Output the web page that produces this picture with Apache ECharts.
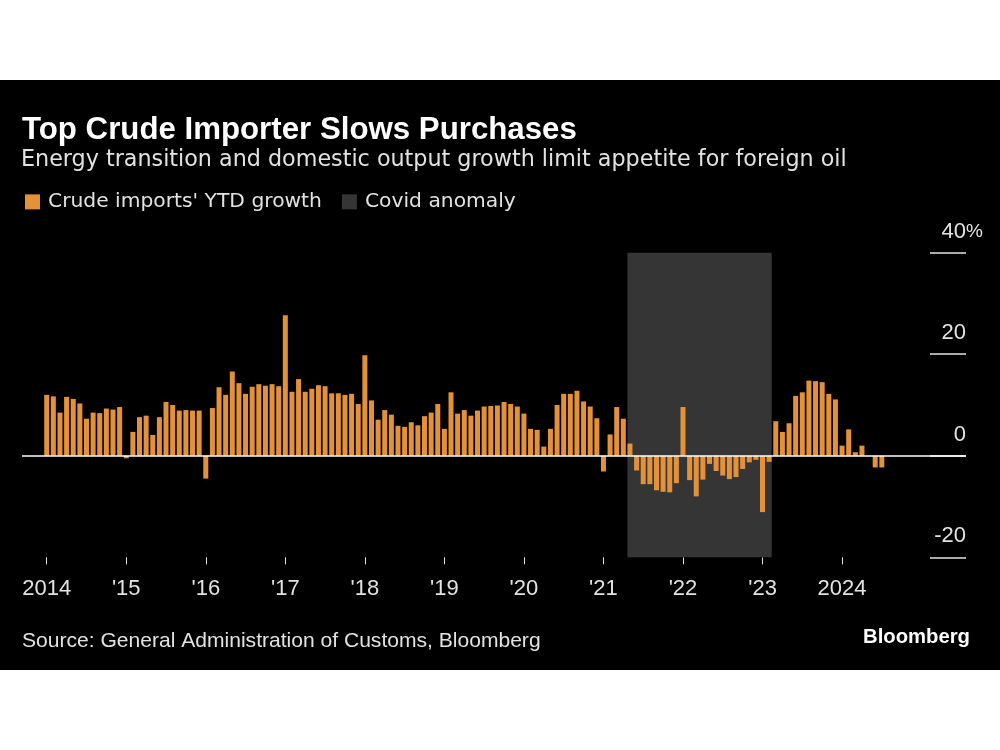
<!DOCTYPE html>
<html>
<head>
<meta charset="utf-8">
<script src="https://cdn.jsdelivr.net/npm/echarts@6/dist/echarts.min.js"></script>
<style>
  html, body { margin: 0; padding: 0; background: #ffffff; }
  #wrap { position: relative; width: 1000px; height: 750px; background: #ffffff; }
  #chart { position: absolute; left: 0; top: 80px; width: 1000px; height: 590px; background: #000000; }
</style>
</head>
<body>
<div id="wrap"><div id="chart"></div></div>
<script>
// Crude imports' YTD growth (%), monthly, Jan..Dec
const startYear = 2014;
const v2014 = [12.0, 11.7, 8.5, 11.6, 11.2, 10.3, 7.3, 8.5, 8.4, 9.3, 9.1, 9.6];
const v2015 = [-0.5, 4.7, 7.6, 7.9, 4.1, 7.6, 10.6, 10.0, 8.9, 9.0, 8.9, 8.9];
const v2016 = [-4.5, 9.4, 13.5, 12.0, 16.6, 14.3, 12.2, 13.6, 14.1, 13.8, 14.1, 13.7];
const v2017 = [27.7, 12.6, 15.1, 12.6, 13.2, 13.9, 13.7, 12.3, 12.3, 12.0, 12.2, 10.2];
const v2018 = [19.8, 10.9, 7.1, 9.0, 8.1, 5.9, 5.7, 6.6, 6.0, 7.8, 8.5, 10.2];
const v2019 = [5.3, 12.5, 8.3, 9.0, 7.9, 8.9, 9.7, 9.8, 9.9, 10.6, 10.2, 9.7];
const v2020 = [8.3, 5.3, 5.1, 1.8, 5.3, 10.0, 12.2, 12.2, 12.8, 10.7, 9.7, 7.4];
const v2021 = [-3.1, 4.2, 9.6, 7.3, 2.4, -2.9, -5.6, -5.6, -6.8, -7.1, -7.2, -5.4];
const v2022 = [9.6, -4.8, -8.0, -4.7, -1.6, -3.0, -3.9, -4.6, -4.2, -2.6, -1.3, -0.8];
const v2023 = [-11.1, -1.2, 6.8, 4.7, 6.4, 11.8, 12.5, 14.8, 14.7, 14.5, 12.2, 11.1];
const v2024 = [2.0, 5.2, 0.7, 2.0, 0.0, -2.3, -2.3];

// Covid anomaly period (first and last month shaded)
const covidStart = '2021-05';
const covidEnd = '2023-02';

// Tick labels at each January
const tickYears = [2014, 2015, 2016, 2017, 2018, 2019, 2020, 2021, 2022, 2023, 2024];
const tickLabels = ['2014', "'15", "'16", "'17", "'18", "'19", "'20", "'21", "'22", "'23", '2024'];

// Texts
const TITLE = 'Top Crude Importer Slows Purchases';
const SUBTITLE = 'Energy transition and domestic output growth limit appetite for foreign oil';
const SERIES_NAME = "Crude imports' YTD growth";
const COVID_NAME = 'Covid anomaly';
const SOURCE = 'Source: General Administration of Customs, Bloomberg';
const LOGO = 'Bloomberg';

const values = [].concat(v2014, v2015, v2016, v2017, v2018, v2019, v2020, v2021, v2022, v2023, v2024);
const barData = values.map((v, i) => [i, v]);
function monthIndex(s) {
  const [y, m] = s.split('-').map(Number);
  return (y - startYear) * 12 + (m - 1);
}
const tickIdx = tickYears.map(y => (y - startYear) * 12);
const halfBar = 0.38;

const ORANGE = '#e3923a';
const SHADE = '#353535';
const TXT = '#e2e2e2';
const SANS = 'Liberation Sans';
const WIDE = 'DejaVu Sans';

// fit font size so the text spans a given width
const mctx = document.createElement('canvas').getContext('2d');
function measure(text, family, weight, size) {
  mctx.font = weight + ' ' + size + 'px "' + family + '"';
  return mctx.measureText(text).width;
}
function fit(text, family, weight, target) {
  return 100 * target / measure(text, family, weight, 100);
}
const fTitle = fit(TITLE, SANS, 'bold', 555);
const fSub = fit(SUBTITLE, WIDE, 'normal', 826);
const fLeg = fit(SERIES_NAME, WIDE, 'normal', 274);
const fSrc = fit(SOURCE, SANS, 'normal', 519);
const fLogo = fit(LOGO, SANS, 'bold', 107);
const K = 0.77; // baseline offset ratio from box top
const AX = 22;  // axis label font size
const PCT_W = measure('%', SANS, 'normal', 19); // overhang of the % sign

const chart = echarts.init(document.getElementById('chart'), null, { renderer: 'canvas' });
chart.setOption({
  backgroundColor: '#000000',
  animation: false,
  textStyle: { fontFamily: SANS },
  title: [
    { text: TITLE, left: 22, top: 59.3 - K * fTitle, padding: 0,
      textStyle: { color: '#ffffff', fontSize: fTitle, fontWeight: 'bold', fontFamily: SANS } },
    { text: SUBTITLE, left: 21, top: 86 - K * fSub, padding: 0,
      textStyle: { color: TXT, fontSize: fSub, fontWeight: 'normal', fontFamily: WIDE } },
    { text: SOURCE, left: 22, top: 566.7 - K * fSrc, padding: 0,
      textStyle: { color: TXT, fontSize: fSrc, fontWeight: 'normal', fontFamily: SANS } },
    { text: LOGO, right: 30, top: 562.7 - K * fLogo, padding: 0,
      textStyle: { color: '#ffffff', fontSize: fLogo, fontWeight: 'bold', fontFamily: SANS } }
  ],
  legend: {
    left: 25, top: 122 - fLeg / 2, padding: 0,
    itemWidth: 15, itemHeight: 15, itemGap: 20,
    icon: 'rect',
    textStyle: { color: TXT, fontSize: fLeg, fontFamily: WIDE, padding: [0, 0, 0, 3] },
    data: [SERIES_NAME, COVID_NAME]
  },
  grid: { left: 22, right: 34, top: 172.7, bottom: 112.7 },
  xAxis: {
    type: 'value',
    min: -3.73,
    max: 138.7,
    splitLine: { show: false },
    axisLine: { show: false, onZero: false },
    axisTick: { show: true, customValues: tickIdx, length: 7, lineStyle: { color: TXT, width: 1 } },
    axisLabel: {
      customValues: tickIdx,
      margin: 21,
      color: TXT, fontSize: AX, fontFamily: SANS,
      formatter: v => tickLabels[tickIdx.indexOf(Math.round(v))]
    }
  },
  yAxis: {
    type: 'value',
    position: 'right',
    min: -20, max: 40, interval: 20,
    splitLine: { show: false },
    axisLine: { show: false, onZero: false },
    axisTick: { show: true, inside: true, length: 36, lineStyle: { color: TXT, width: 1.5 } },
    axisLabel: {
      inside: true, margin: -PCT_W,
      color: TXT, fontSize: AX, fontFamily: SANS,
      verticalAlign: 'bottom',
      padding: [0, 0, 10, 0],
      formatter: v => v === 40 ? '40{p|%}' : v + '{s| }',
      rich: {
        p: { color: TXT, fontSize: 19, fontFamily: SANS },
        s: { width: PCT_W, fontSize: AX, fontFamily: SANS }
      }
    }
  },
  series: [
    {
      name: COVID_NAME,
      type: 'line',
      data: [],
      itemStyle: { color: SHADE },
      markArea: {
        silent: true,
        itemStyle: { color: SHADE },
        data: [[{ xAxis: monthIndex(covidStart) - halfBar, yAxis: 40 }, { xAxis: monthIndex(covidEnd) + halfBar, yAxis: -20 }]]
      },
      z: 1
    },
    {
      name: SERIES_NAME,
      type: 'bar',
      data: barData,
      barWidth: 5,
      itemStyle: { color: ORANGE },
      z: 3,
      markLine: {
        silent: true,
        symbol: 'none',
        label: { show: false },
        lineStyle: { color: '#ffffff', width: 1.5, type: 'solid' },
        data: [{ yAxis: 0 }],
        z: 5
      }
    }
  ]
});
</script>
</body>
</html>
